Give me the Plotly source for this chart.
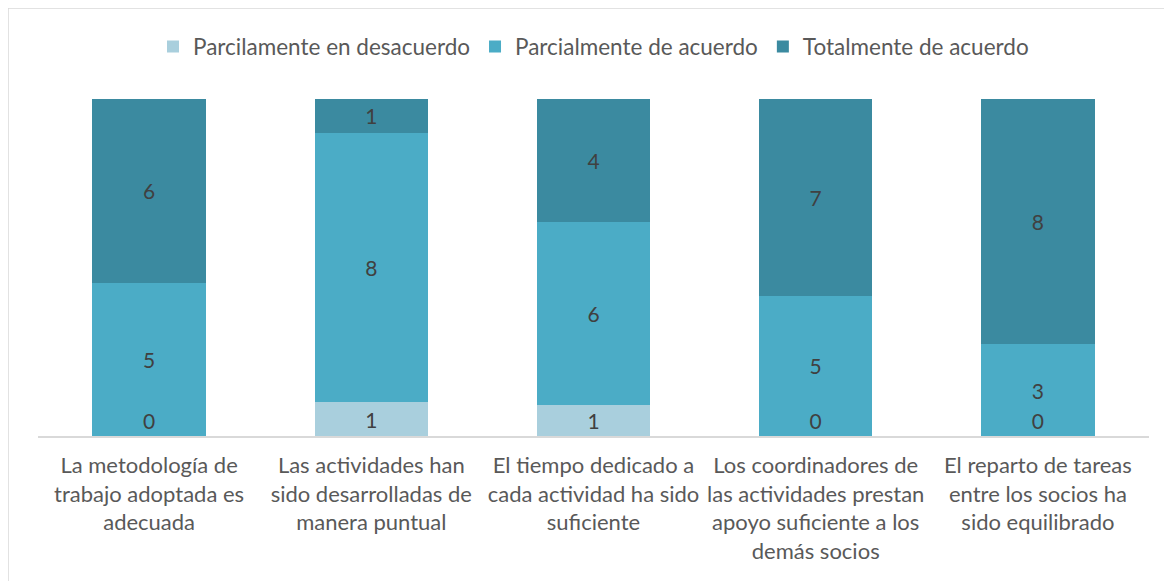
import plotly.graph_objects as go

categories = [
    "La metodología de<br>trabajo adoptada es<br>adecuada",
    "Las actividades han<br>sido desarrolladas de<br>manera puntual",
    "El tiempo dedicado a<br>cada actividad ha sido<br>suficiente",
    "Los coordinadores de<br>las actividades prestan<br>apoyo suficiente a los<br>demás socios",
    "El reparto de tareas<br>entre los socios ha<br>sido equilibrado",
]
series_names = ["Parcilamente en desacuerdo", "Parcialmente de acuerdo", "Totalmente de acuerdo"]
parc_desacuerdo = [0, 1, 1, 0, 0]
parc_acuerdo = [5, 8, 6, 5, 3]
total_acuerdo = [6, 1, 4, 7, 8]

colors = ["#A9CFDD", "#4BACC6", "#3B8AA0"]
FONT = "Lato"
label_font = dict(family=FONT, size=21, color="#404040")

fig = go.Figure()
for name, vals, col in zip(series_names, [parc_desacuerdo, parc_acuerdo, total_acuerdo], colors):
    fig.add_trace(go.Bar(
        x=categories, y=vals, name=name, marker_color=col,
        marker_line_width=0,
        text=[str(v) if v > 0 else "" for v in vals],
        textposition="inside", insidetextanchor="middle",
        textangle=0, constraintext="none",
        textfont=label_font, hoverinfo="name+y",
    ))

# zero-valued labels shown at the base of the bar
zero_x = [c for c, v in zip(categories, parc_desacuerdo) if v == 0]
fig.add_trace(go.Scatter(
    x=zero_x, y=[0] * len(zero_x), mode="markers+text",
    marker=dict(size=1, opacity=0),
    text=["0"] * len(zero_x), textposition="top center",
    textfont=label_font, showlegend=False, hoverinfo="skip",
))

fig.update_layout(
    barmode="stack", barnorm="percent", bargap=0.49,
    width=1172, height=581,
    margin=dict(l=30, r=31, t=91, b=153, autoexpand=False),
    paper_bgcolor="white", plot_bgcolor="white",
    font=dict(family=FONT, color="#595959"),
    uniformtext=dict(minsize=10, mode="show"),
    legend=dict(orientation="h", x=0.5, xanchor="center",
                yref="container", y=0.933, yanchor="middle",
                traceorder="normal",
                font=dict(family=FONT, size=22.5, color="#595959"),
                itemwidth=30, tracegroupgap=0),
    xaxis=dict(showline=True, linecolor="#D9D9D9", linewidth=1.5, ticks="",
               tickfont=dict(family=FONT, size=22, color="#595959"),
               ticklabelstandoff=9, fixedrange=True, automargin=False),
    yaxis=dict(range=[0, 100], visible=False, showgrid=False, fixedrange=True, automargin=False),
    shapes=[dict(type="rect", xref="paper", yref="paper",
                 x0=-0.027, x1=1.06, y0=-0.5, y1=1.27,
                 line=dict(color="#D9D9D9", width=1.5), fillcolor="rgba(0,0,0,0)",
                 layer="below")],
)

fig.write_html("out.html")
